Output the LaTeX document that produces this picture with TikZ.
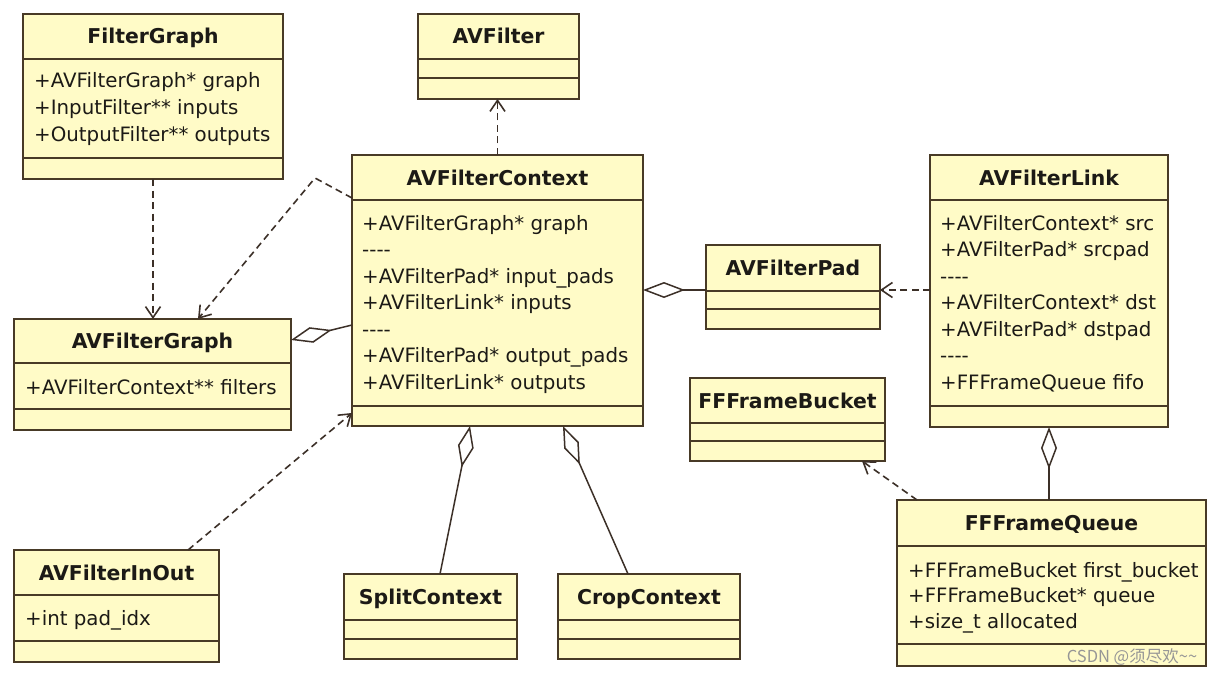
\documentclass[tikz,border=0pt]{standalone}
\usepackage{fontspec}
\setmainfont{DejaVu Sans}
\newfontfamily\cjkfont{Noto Sans CJK SC}
\usetikzlibrary{arrows.meta}
\definecolor{boxfill}{RGB}{255,251,199}
\definecolor{boxline}{RGB}{72,58,38}
\definecolor{txt}{RGB}{28,26,22}
\definecolor{conn}{RGB}{60,48,40}
\newcommand\sep{\mbox{-}\mbox{-}\mbox{-}\mbox{-}}
\tikzset{
  cls/.style={draw=boxline, fill=boxfill, line width=1.8pt, inner sep=0pt, outer sep=0pt},
  cline/.style={draw=boxline, line width=1.5pt},
  ttl/.style={anchor=base, inner sep=0pt, text=txt, font=\fontsize{20.4}{24}\selectfont\bfseries},
  attr/.style={anchor=base west, inner sep=0pt, text=txt, font=\fontsize{19.8}{23}\selectfont},
  dep/.style={draw=conn, line width=1.6pt, dash pattern=on 7pt off 4.5pt, -{Straight Barb[length=11pt,width=15pt]}},
  agg/.style={draw=conn, line width=1.5pt, -{Diamond[length=42pt,width=16pt,fill=white]}},
}
\newcommand\umlbox[8]{%
  \node[cls, anchor=north west, minimum width={(#4-#2)*1pt}, minimum height={(#5-#3)*1pt}] (#1) at (#2,#3) {};
  \draw[cline] (#2,#6) -- (#4,#6) (#2,#7) -- (#4,#7);
  \node[ttl] (#1-title) at ({(#2+#4)/2},{(#3+#6)/2+7.5}) {#8};}
\newcommand\attrs[5]{%
  \foreach \t [count=\i] in {#5} {\node[attr] (#1-\i) at (#2,{#3+(\i-1)*#4}) {\t};}}
\begin{document}
\begin{tikzpicture}[x=1pt,y=-1pt]
\useasboundingbox (0,0) rectangle (1215,674);
\fill[white] (0,0) rectangle (1215,674);

\umlbox{fg}{23}{14}{283}{179}{59}{158}{FilterGraph}
\attrs{fg}{34}{88}{27}{+AVFilterGraph* graph,+InputFilter** inputs,+OutputFilter** outputs}

\umlbox{avf}{418}{14}{579}{99}{59}{78}{AVFilter}

\umlbox{ctx}{352}{155}{643}{426}{200}{406}{AVFilterContext}
\attrs{ctx}{362}{230}{26.5}{+AVFilterGraph* graph,\sep,+AVFilterPad* input\_pads,+AVFilterLink* inputs,\sep,+AVFilterPad* output\_pads,+AVFilterLink* outputs}

\umlbox{lnk}{930}{155}{1168}{427}{200}{406}{AVFilterLink}
\attrs{lnk}{940}{230}{26.5}{+AVFilterContext* src,+AVFilterPad* srcpad,\sep,+AVFilterContext* dst,+AVFilterPad* dstpad,\sep,+FFFrameQueue fifo}

\umlbox{pad}{706}{245}{880}{329}{291}{309}{AVFilterPad}

\umlbox{bkt}{690}{378}{885}{461}{423}{441}{FFFrameBucket}

\umlbox{avg}{14}{319}{291}{430}{363}{409}{AVFilterGraph}
\attrs{avg}{25}{394}{26}{+AVFilterContext** filters}

\umlbox{io}{14}{550}{219}{662}{595}{641}{AVFilterInOut}
\attrs{io}{25}{625}{26}{+int pad\_idx}

\umlbox{spl}{344}{574}{517}{659}{620}{639}{SplitContext}
\umlbox{crp}{558}{574}{740}{659}{620}{639}{CropContext}

\umlbox{que}{897}{500}{1206}{666}{546}{644}{FFFrameQueue}
\attrs{que}{908}{577}{25.8}{+FFFrameBucket first\_bucket,+FFFrameBucket* queue,+size\_t allocated}

\node[anchor=base, inner sep=0pt, text={rgb,255:red,150;green,150;blue,150}, font=\cjkfont\fontsize{16.5}{19}\selectfont] (wm) at (1132,662) {CSDN @须尽欢\textasciitilde\textasciitilde};

% connectors
\coordinate (bend) at (315,178);
\draw[dep] (fg.south) -- (fg.south |- avg.north);
\draw[dep] ([yshift=-43pt]ctx.north west) -- (bend) -- ([xshift=184pt]avg.north west);
\draw[dep] (ctx.north) -- (ctx.north |- avf.south);
\draw[agg] ([yshift=-170pt]ctx.north west) -- ([yshift=-21pt]avg.north east);
\draw[agg] ([yshift=-45pt]pad.north west) -- ([yshift=-135pt]ctx.north east);
\draw[dep] ([yshift=-135pt]lnk.north west) -- ([yshift=-45pt]pad.north east);
\draw[agg] ([xshift=96pt]spl.north west) -- ([xshift=118pt]ctx.south west);
\draw[agg] ([xshift=70pt]crp.north west) -- ([xshift=211pt]ctx.south west);
\draw[dep] ([xshift=174pt]io.north west) -- ([yshift=13pt]ctx.south west);
\draw[agg] (lnk.south |- que.north) -- (lnk.south);
\draw[dep] ([xshift=20pt]que.north west) -- ([xshift=172pt]bkt.south west);
\end{tikzpicture}
\end{document}
